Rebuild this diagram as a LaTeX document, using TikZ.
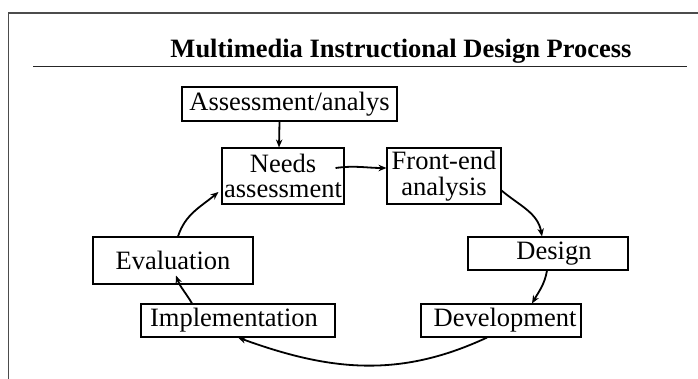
\documentclass[tikz,border=0pt]{standalone}
\usepackage{fontspec}
\setmainfont{Liberation Serif}
\usetikzlibrary{arrows.meta}
\begin{document}
\begin{tikzpicture}[x=1pt,y=-1pt,
    stagebox/.style={draw,line width=1.1pt,inner sep=0pt,align=center,
      font=\fontsize{26.5}{25.5}\selectfont},
    flow/.style={line width=1.8pt,-{Stealth[length=8pt,width=6.5pt]}}]
      \useasboundingbox (0,0) rectangle (698,379);
      \draw[line width=1.2pt,black!70] (8.5,379) -- (8.5,13) -- (698,13);
      \node[font=\fontsize{26.5}{30}\selectfont\bfseries] (title) at (401,51.5) {Multimedia Instructional Design Process};
      \draw[line width=1.2pt,black!85] (33,66.5) -- (687,66.5);
      \node[stagebox,minimum width=215pt,minimum height=34pt] (assess) at (289.5,104) {Assessment/analys};
      \node[stagebox,minimum width=122pt,minimum height=56pt] (needs) at (283,176) {Needs\\assessment};
      \node[stagebox,minimum width=114pt,minimum height=56pt] (front) at (444,176) {Front-end\\analysis};
      \node[stagebox,minimum width=160pt,minimum height=33pt] (design) at (548,253.5) {\hspace{12pt}Design};
      \node[stagebox,minimum width=160pt,minimum height=33pt] (devel) at (501,320.5) {\hspace{8pt}Development};
      \node[stagebox,minimum width=160pt,minimum height=47pt] (eval) at (173,260.5) {Evaluation};
      \node[stagebox,minimum width=194pt,minimum height=33pt] (impl) at (238,320.5) {Implementation\hspace{8pt}};
      \draw[flow] ([xshift=-10pt]assess.south) -- ([xshift=-4pt]needs.north);
      \draw[flow] ([xshift=-9pt,yshift=8pt]needs.east) to[out=8,in=180] ([yshift=8pt]front.west);
      \draw[flow] ([yshift=14pt]front.south east) to[out=-40,in=100] ([xshift=-6pt]design.north);
      \draw[flow] ([xshift=-1pt]design.south) to[out=-100,in=60] ([xshift=31pt]devel.north);
      \draw[flow] ([xshift=-14pt]devel.south) to[out=-155,in=-20] (impl.south);
      \draw[flow] ([xshift=-46pt]impl.north) to[out=120,in=-70] ([xshift=3pt,yshift=9pt]eval.south);
      \draw[flow] ([xshift=5pt]eval.north) to[out=72,in=-140] ([xshift=-3pt,yshift=-16pt]needs.west);
\end{tikzpicture}
\end{document}
